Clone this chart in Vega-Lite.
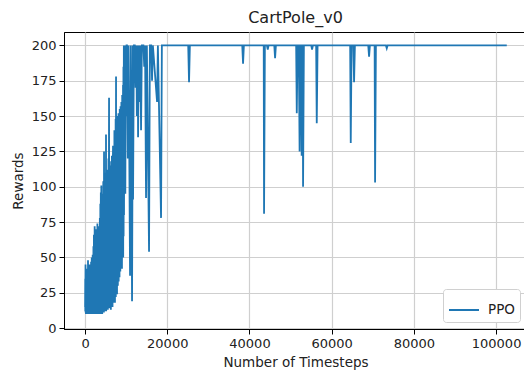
{
  "$schema": "https://vega.github.io/schema/vega-lite/v6.json",
  "width": 463,
  "height": 297,
  "autosize": "none",
  "padding": {"left": 64, "top": 32, "right": 0, "bottom": 43},
  "background": "white",
  "config": {
    "font": "DejaVu Sans",
    "view": {"stroke": "black", "strokeWidth": 1},
    "axis": {
      "labelFont": "DejaVu Sans", "titleFont": "DejaVu Sans",
      "labelFontSize": 13, "titleFontSize": 13.5, "titleFontWeight": "normal",
      "labelColor": "#222", "titleColor": "#222",
      "domainColor": "black", "tickColor": "black", "tickSize": 5,
      "gridColor": "#cfcfcf", "gridWidth": 1.2, "labelPadding": 3
    }
  },
  "title": {"text": "CartPole_v0", "fontSize": 16, "fontWeight": "normal", "font": "DejaVu Sans", "color": "#222", "offset": 6},
  "data": {"values": [
    {"t":15,"r":15},{"t":50,"r":35},{"t":62,"r":12},{"t":75,"r":13},{"t":120,"r":45},{"t":135,"r":15},{"t":150,"r":11},{"t":180,"r":30},{"t":195,"r":14},{"t":210,"r":10},{"t":250,"r":38},{"t":265,"r":15},{"t":280,"r":12},{"t":320,"r":26},{"t":335,"r":11},{"t":350,"r":14},{"t":395,"r":42},{"t":410,"r":13},{"t":425,"r":10},{"t":470,"r":28},{"t":485,"r":12},{"t":500,"r":20},{"t":520,"r":11},{"t":560,"r":36},{"t":575,"r":13},{"t":600,"r":10},{"t":640,"r":31},{"t":660,"r":15},{"t":680,"r":12},{"t":720,"r":48},{"t":740,"r":11},{"t":760,"r":22},{"t":780,"r":13},{"t":820,"r":33},{"t":840,"r":10},{"t":860,"r":18},{"t":900,"r":40},{"t":920,"r":12},{"t":940,"r":11},{"t":980,"r":29},{"t":1000,"r":14},{"t":1030,"r":35},{"t":1050,"r":10},{"t":1080,"r":24},{"t":1100,"r":12},{"t":1140,"r":45},{"t":1160,"r":11},{"t":1190,"r":27},{"t":1210,"r":13},{"t":1250,"r":38},{"t":1270,"r":10},{"t":1300,"r":21},{"t":1320,"r":12},{"t":1360,"r":42},{"t":1380,"r":14},{"t":1410,"r":30},{"t":1430,"r":10},{"t":1470,"r":47},{"t":1490,"r":12},{"t":1520,"r":25},{"t":1540,"r":11},{"t":1580,"r":36},{"t":1600,"r":14},{"t":1630,"r":50},{"t":1650,"r":10},{"t":1690,"r":33},{"t":1710,"r":13},{"t":1750,"r":44},{"t":1770,"r":11},{"t":1800,"r":28},{"t":1820,"r":15},{"t":1860,"r":52},{"t":1880,"r":10},{"t":1920,"r":38},{"t":1940,"r":12},{"t":1980,"r":46},{"t":2000,"r":14},
    {"t":2040,"r":58},{"t":2060,"r":11},{"t":2100,"r":35},{"t":2120,"r":13},{"t":2160,"r":66},{"t":2180,"r":10},{"t":2220,"r":42},{"t":2240,"r":15},{"t":2280,"r":55},{"t":2300,"r":12},{"t":2340,"r":72},{"t":2360,"r":10},{"t":2400,"r":30},{"t":2420,"r":14},{"t":2460,"r":61},{"t":2480,"r":11},{"t":2520,"r":48},{"t":2540,"r":16},{"t":2580,"r":68},{"t":2600,"r":10},{"t":2640,"r":39},{"t":2660,"r":13},{"t":2700,"r":57},{"t":2720,"r":12},{"t":2760,"r":70},{"t":2780,"r":15},{"t":2820,"r":44},{"t":2840,"r":10},{"t":2880,"r":63},{"t":2900,"r":18},{"t":2940,"r":52},{"t":2960,"r":11},{"t":3000,"r":74},{"t":3020,"r":14},{"t":3060,"r":40},{"t":3080,"r":10},{"t":3120,"r":66},{"t":3140,"r":17},{"t":3180,"r":58},{"t":3200,"r":12},{"t":3240,"r":70},{"t":3260,"r":15},{"t":3300,"r":46},{"t":3320,"r":10},{"t":3360,"r":62},{"t":3380,"r":13},{"t":3420,"r":72},{"t":3440,"r":16},{"t":3480,"r":50},{"t":3500,"r":11},{"t":3540,"r":64},{"t":3560,"r":19},{"t":3600,"r":78},{"t":3620,"r":12},{"t":3660,"r":55},{"t":3680,"r":14},{"t":3720,"r":88},{"t":3740,"r":10},{"t":3780,"r":60},{"t":3800,"r":17},{"t":3840,"r":96},{"t":3860,"r":12},{"t":3900,"r":68},{"t":3920,"r":15},{"t":3960,"r":101},{"t":3980,"r":11},
    {"t":4040,"r":72},{"t":4080,"r":14},{"t":4140,"r":95},{"t":4180,"r":10},{"t":4240,"r":60},{"t":4280,"r":18},{"t":4340,"r":88},{"t":4380,"r":12},{"t":4440,"r":104},{"t":4480,"r":15},{"t":4540,"r":75},{"t":4580,"r":11},{"t":4620,"r":125},{"t":4660,"r":16},{"t":4720,"r":82},{"t":4760,"r":12},{"t":4820,"r":98},{"t":4860,"r":20},{"t":4920,"r":70},{"t":4960,"r":13},{"t":5020,"r":110},{"t":5060,"r":17},{"t":5100,"r":137},{"t":5140,"r":12},{"t":5200,"r":86},{"t":5240,"r":19},{"t":5300,"r":105},{"t":5340,"r":14},{"t":5400,"r":78},{"t":5440,"r":22},{"t":5500,"r":112},{"t":5540,"r":13},{"t":5600,"r":92},{"t":5640,"r":18},{"t":5700,"r":120},{"t":5740,"r":15},{"t":5800,"r":100},{"t":5840,"r":163},{"t":5880,"r":14},{"t":5940,"r":85},{"t":5980,"r":21},{"t":6040,"r":118},{"t":6080,"r":16},{"t":6140,"r":96},{"t":6180,"r":24},{"t":6240,"r":108},{"t":6280,"r":13},{"t":6330,"r":115},{"t":6380,"r":20},{"t":6440,"r":90},{"t":6480,"r":17},{"t":6540,"r":122},{"t":6580,"r":25},{"t":6640,"r":100},{"t":6680,"r":15},{"t":6740,"r":112},{"t":6810,"r":129},{"t":6850,"r":22},{"t":6900,"r":95},{"t":6950,"r":18},
    {"t":7040,"r":125},{"t":7080,"r":20},{"t":7140,"r":140},{"t":7180,"r":26},{"t":7240,"r":110},{"t":7280,"r":18},{"t":7340,"r":132},{"t":7380,"r":30},{"t":7440,"r":148},{"t":7480,"r":22},{"t":7540,"r":178},{"t":7580,"r":28},{"t":7640,"r":120},{"t":7680,"r":35},{"t":7740,"r":145},{"t":7780,"r":24},{"t":7840,"r":130},{"t":7880,"r":38},{"t":7940,"r":150},{"t":7980,"r":30},{"t":8030,"r":140},{"t":8080,"r":42},{"t":8140,"r":152},{"t":8180,"r":33},{"t":8240,"r":128},{"t":8280,"r":45},{"t":8340,"r":146},{"t":8380,"r":36},{"t":8440,"r":155},{"t":8480,"r":48},{"t":8540,"r":138},{"t":8580,"r":40},{"t":8640,"r":157},{"t":8680,"r":52},{"t":8740,"r":145},{"t":8780,"r":44},{"t":8840,"r":160},{"t":8880,"r":55},{"t":8940,"r":150},{"t":8980,"r":42},{"t":9040,"r":165},{"t":9080,"r":58},{"t":9140,"r":155},{"t":9180,"r":60},{"t":9240,"r":172},{"t":9280,"r":50},{"t":9340,"r":185},{"t":9380,"r":65},{"t":9440,"r":200},{"t":9480,"r":80},{"t":9540,"r":165},{"t":9600,"r":200},{"t":9660,"r":120},{"t":9720,"r":200},{"t":9800,"r":95},{"t":9900,"r":200},{"t":9980,"r":150},{"t":10100,"r":200},
    {"t":10200,"r":200},{"t":10400,"r":120},{"t":10600,"r":200},{"t":10950,"r":37},{"t":11150,"r":200},{"t":11435,"r":19},{"t":11640,"r":200},{"t":11680,"r":91},{"t":11880,"r":200},{"t":12100,"r":200},{"t":12300,"r":170},{"t":12500,"r":200},{"t":12600,"r":150},{"t":12800,"r":200},{"t":12900,"r":135},{"t":13100,"r":200},{"t":13300,"r":160},{"t":13450,"r":200},{"t":13625,"r":140},{"t":13825,"r":200},{"t":14200,"r":200},{"t":14400,"r":185},{"t":14600,"r":200},{"t":14840,"r":92},{"t":15040,"r":200},{"t":15570,"r":54},{"t":15770,"r":200},{"t":16100,"r":200},{"t":16300,"r":175},{"t":16500,"r":200},{"t":17520,"r":160},{"t":17720,"r":200},{"t":18490,"r":78},{"t":18690,"r":200},
    {"t":25100,"r":200},{"t":25300,"r":174},{"t":25500,"r":200},{"t":38250,"r":200},{"t":38440,"r":187},{"t":38640,"r":200},{"t":43470,"r":200},{"t":43550,"r":81},{"t":43750,"r":200},{"t":44250,"r":200},{"t":44450,"r":197},{"t":44650,"r":200},{"t":46040,"r":200},{"t":46230,"r":191},{"t":46430,"r":200},{"t":51360,"r":200},{"t":51510,"r":152},{"t":51710,"r":200},{"t":52000,"r":200},{"t":52200,"r":125},{"t":52400,"r":200},{"t":52580,"r":200},{"t":52700,"r":122},{"t":52900,"r":200},{"t":52950,"r":200},{"t":53040,"r":100},{"t":53240,"r":200},{"t":55030,"r":200},{"t":55230,"r":197},{"t":55430,"r":200},{"t":56225,"r":200},{"t":56370,"r":145},{"t":56570,"r":200},{"t":64500,"r":200},{"t":64640,"r":131},{"t":64840,"r":200},{"t":65280,"r":200},{"t":65450,"r":174},{"t":65650,"r":200},{"t":68900,"r":200},{"t":69100,"r":192},{"t":69300,"r":200},{"t":70450,"r":200},{"t":70560,"r":103},{"t":70760,"r":200},{"t":73200,"r":200},{"t":73400,"r":198},{"t":73600,"r":200},{"t":102600,"r":200}
  ]},
  "mark": {"type": "line", "strokeWidth": 1.8, "clip": true},
  "encoding": {
    "x": {"field": "t", "type": "quantitative", "title": "Number of Timesteps",
      "scale": {"domain": [-5120, 107520], "nice": false, "zero": false},
      "axis": {"values": [0, 20000, 40000, 60000, 80000, 100000], "format": "d", "titlePadding": 5}},
    "y": {"field": "r", "type": "quantitative", "title": "Rewards",
      "scale": {"domain": [-0.6, 209.5], "nice": false, "zero": false},
      "axis": {"values": [0, 25, 50, 75, 100, 125, 150, 175, 200], "titlePadding": 6}},
    "color": {"datum": "PPO", "type": "nominal",
      "scale": {"range": ["#1f77b4"]},
      "legend": {"title": null, "orient": "bottom-right", "offset": 7, "symbolType": "stroke", "symbolSize": 900, "symbolStrokeWidth": 2, "labelFontSize": 13.5, "labelFont": "DejaVu Sans", "labelColor": "#222", "strokeColor": "#d0d0d0", "fillColor": "white", "cornerRadius": 3, "padding": 5, "labelOffset": 8}}
  }
}
